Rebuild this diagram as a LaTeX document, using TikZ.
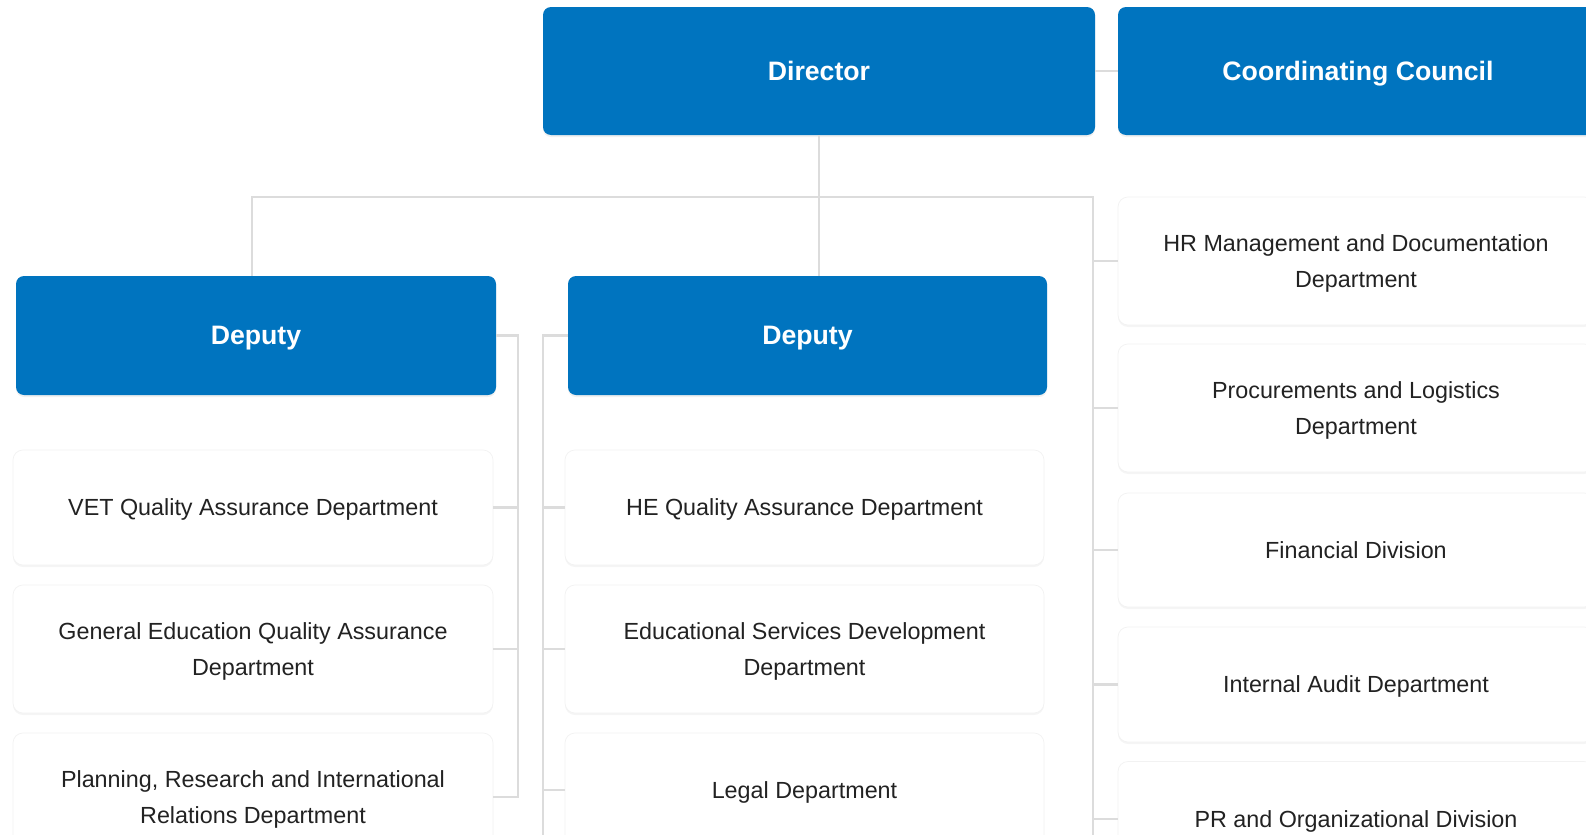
\documentclass[tikz,border=0pt]{standalone}
\usepackage{fontspec}
\setmainfont{Liberation Sans}
\usetikzlibrary{shadows}
\definecolor{hdrblue}{HTML}{0074BF}
\definecolor{linegray}{HTML}{DCDCDC}
\definecolor{txtdark}{HTML}{222222}
\newcommand\pxu{0.75pt}
\tikzset{
  hdr/.style={fill=hdrblue, rounded corners=6pt, text=white,
    font=\fontsize{20}{24}\selectfont\bfseries, inner sep=0pt, text depth=0pt,
    general shadow={fill=black, opacity=0.06, shadow yshift=-1.5pt}},
  card/.style={fill=white, draw=black!5, line width=0.5pt, rounded corners=7.5pt,
    text=txtdark, font=\fontsize{17.5}{26.5}\selectfont, align=center, inner sep=0pt,
    text depth=0pt,
    general shadow={fill=black, opacity=0.04, shadow yshift=-1.5pt}},
  conn/.style={draw=linegray, line width=2pt},
}
\begin{document}
\begin{tikzpicture}[x=0.75pt, y=-0.75pt]
\useasboundingbox (0,0) rectangle (1586,835);
\fill[white] (0,0) rectangle (1586,835);
\clip (0,0) rectangle (1586,835);

% header boxes
\node[hdr, minimum width=552*\pxu, minimum height=128*\pxu] (dir) at (819,71) {Director};
\node[hdr, minimum width=480*\pxu, minimum height=128*\pxu] (cc) at (1358,71) {Coordinating Council};
\node[hdr, minimum width=480*\pxu, minimum height=119*\pxu] (depL) at (256,335.5) {Deputy};
\node[hdr, minimum width=479*\pxu, minimum height=119*\pxu] (depR) at (807.5,335.5) {Deputy};

% left column
\node[card, minimum width=480*\pxu, minimum height=115*\pxu] (vet) at (253,507.5) {VET Quality Assurance Department};
\node[card, minimum width=480*\pxu, minimum height=128*\pxu] (ged) at (253,649) {General Education Quality Assurance\\Department};
\node[card, minimum width=480*\pxu, minimum height=128*\pxu] (prir) at (253,797) {Planning, Research and International\\Relations Department};

% middle column
\node[card, minimum width=479*\pxu, minimum height=115*\pxu] (he) at (804.5,507.5) {HE Quality Assurance Department};
\node[card, minimum width=479*\pxu, minimum height=128*\pxu] (esd) at (804.5,649) {Educational Services Development\\Department};
\node[card, minimum width=479*\pxu, minimum height=114*\pxu] (legal) at (804.5,790) {Legal Department};

% right column
\node[card, minimum width=476*\pxu, minimum height=128*\pxu] (hrm) at (1356,261) {HR Management and Documentation\\Department};
\node[card, minimum width=476*\pxu, minimum height=128*\pxu] (proc) at (1356,408) {Procurements and Logistics\\Department};
\node[card, minimum width=476*\pxu, minimum height=114*\pxu] (fin) at (1356,550) {Financial Division};
\node[card, minimum width=476*\pxu, minimum height=115*\pxu] (ia) at (1356,684.5) {Internal Audit Department};
\node[card, minimum width=476*\pxu, minimum height=115*\pxu] (pr) at (1356,819) {PR and Organizational Division};

% connectors
\coordinate (hl) at (252,197);
\coordinate (rtop) at (1093,197);
\coordinate (rbot) at (1093,845);
\coordinate (lx) at (518,0);
\coordinate (mx) at (543,0);
\coordinate (mbot) at (543,845);

\draw[conn] (dir.east) -- (cc.west);
\draw[conn] (dir.south) -- (dir.south |- depR.north);
\draw[conn] (hl |- depL.north) -- (hl) -- (rtop) -- (rbot);
\foreach \n in {hrm,proc,fin,ia,pr}
  \draw[conn] (\n.west) -- (\n.west -| rtop);

\draw[conn] (depL.east) -- (depL.east -| lx) -- (lx |- prir.east) -- (prir.east);
\foreach \n in {vet,ged}
  \draw[conn] (\n.east) -- (\n.east -| lx);

\draw[conn] (depR.west) -- (depR.west -| mx) -- (mbot);
\foreach \n in {he,esd,legal}
  \draw[conn] (\n.west) -- (\n.west -| mx);
\end{tikzpicture}
\end{document}
